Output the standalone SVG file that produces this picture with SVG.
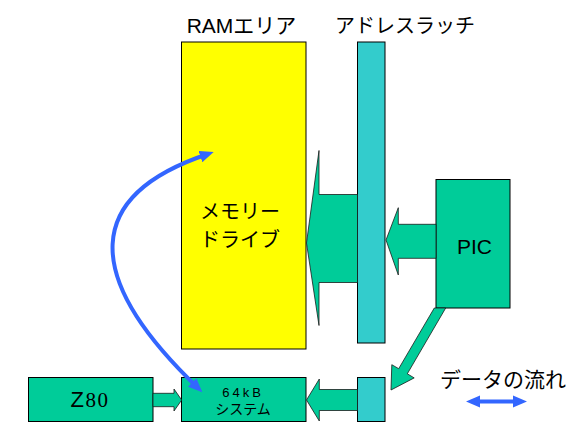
<svg xmlns="http://www.w3.org/2000/svg" width="580" height="430" viewBox="0 0 580 430">
<style>
.g{fill:#00CC99;stroke:#000;stroke-width:1}
.c{fill:#33CCCC;stroke:#000;stroke-width:1}
.y{fill:#FFFF00;stroke:#000;stroke-width:1}
.a{fill:#00CC99;stroke:#1a1a1a;stroke-width:0.8}
.t{font-family:"Liberation Sans","Noto Sans CJK JP",sans-serif;fill:#000}
.j{font-family:"Noto Sans CJK JP","Liberation Sans",sans-serif;fill:#000}
</style>
<defs>
<marker id="bh" markerUnits="userSpaceOnUse" markerWidth="14" markerHeight="12" refX="8" refY="6" orient="auto-start-reverse" viewBox="0 0 14 12">
<path d="M0,0 L14,6 L0,12 z" fill="#3366FF"/>
</marker>
</defs>
<rect width="580" height="430" fill="#fff"/>
<g id="title-ram"><text class="t" x="241.5" y="33" font-size="21" text-anchor="middle">RAMエリア</text></g>
<g id="title-latch"><text class="j" x="405" y="33" font-size="20" text-anchor="middle">アドレスラッチ</text></g>
<g id="ram">
<rect class="y" x="181.5" y="42" width="124.5" height="307"/>
<text class="j" x="200" y="219" font-size="20">メモリー</text>
<text class="j" x="200" y="247" font-size="20">ドライブ</text>
</g>
<g id="latch"><rect class="c" x="357.5" y="42" width="27.5" height="301"/></g>
<g id="pic">
<rect class="g" x="436" y="179.5" width="74" height="128.5"/>
<text class="t" x="474.5" y="254" font-size="21" text-anchor="middle">PIC</text>
</g>
<g id="z80">
<rect class="g" x="28.5" y="377.5" width="124.5" height="44"/>
<text x="90" y="407" font-size="21" text-anchor="middle" letter-spacing="1.5" fill="#000"><tspan font-family="Liberation Sans, sans-serif" font-size="22">Z</tspan><tspan font-family="Liberation Serif, serif">80</tspan></text>
</g>
<g id="system">
<rect class="g" x="181.5" y="377.5" width="124.5" height="44"/>
<text class="t" x="243" y="396.5" font-size="13" text-anchor="middle" letter-spacing="3">64kB</text>
<text class="j" x="243" y="414" font-size="14" text-anchor="middle">システム</text>
</g>
<g id="latch-small"><rect class="c" x="357.5" y="377.5" width="27.5" height="44"/></g>
<g id="connectors">
<polygon class="a" points="306.5,243 319,150.5 319,194.5 357.5,194.5 357.5,282.5 319,282.5 319,325.5"/>
<polygon class="a" points="386,240 398.3,207.7 398.3,224.3 436,224.3 436,258.3 398.3,258.3 398.3,275"/>
<polygon class="a" points="306.5,400 319.3,379 319.3,389.5 357.5,389.5 357.5,410.5 319.3,410.5 319.3,421"/>
<polygon class="a" points="181.7,400 174,389 174,393.3 153,393.3 153,406.7 174,406.7 174,411"/>
<polygon class="a" points="434.3,308 445.7,308 407.3,373.8 414.2,377.9 391,390 391.8,364.7 398.7,368.7"/>
<path d="M208,154 C85,195 80,275 198,388" fill="none" stroke="#3366FF" stroke-width="4" marker-start="url(#bh)" marker-end="url(#bh)"/>
</g>
<g id="legend">
<text class="j" x="440" y="387" font-size="21">データの流れ</text>
<polygon fill="#3366FF" points="466,401.5 480,395.5 480,399.5 513,399.5 513,395.5 527,401.5 513,407.5 513,403.5 480,403.5 480,407.5"/>
</g>
</svg>
